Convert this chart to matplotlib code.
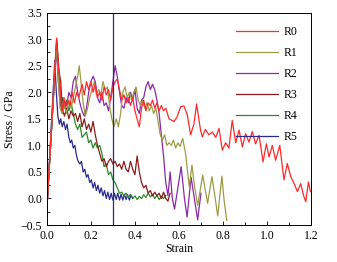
import numpy as np
import matplotlib.pyplot as plt
from matplotlib.ticker import MultipleLocator

# Stress-strain curves (strain, GPa)
r0_strain = [0.0, 0.044, 0.052, 0.06, 0.065, 0.07, 0.078, 0.085, 0.095, 0.105, 0.115, 0.125,
             0.135, 0.145, 0.16, 0.17, 0.18, 0.19, 0.20, 0.21, 0.22, 0.23, 0.24, 0.25, 0.26,
             0.27, 0.28, 0.29, 0.30, 0.31, 0.32, 0.33, 0.34, 0.35, 0.36, 0.37, 0.38, 0.39,
             0.40, 0.41, 0.42, 0.43, 0.44, 0.45, 0.46, 0.47, 0.48, 0.49, 0.50, 0.51, 0.52,
             0.53, 0.54, 0.555, 0.577, 0.59, 0.608, 0.623, 0.638, 0.653, 0.668, 0.68,
             0.698, 0.706, 0.72, 0.736, 0.752, 0.767, 0.782, 0.797, 0.812, 0.827, 0.842,
             0.858, 0.873, 0.888, 0.903, 0.918, 0.933, 0.948, 0.964, 0.982, 0.997, 1.009,
             1.024, 1.039, 1.058, 1.077, 1.092, 1.108, 1.123, 1.138, 1.153, 1.168, 1.176,
             1.188, 1.197]
r0_stress = [-0.2, 3.02, 2.5, 2.2, 1.8, 1.65, 1.9, 1.7, 1.85, 1.75, 2.0, 1.8,
             2.0, 1.9, 2.15, 1.95, 2.2, 2.05, 2.2, 2.0, 2.15, 1.9, 2.0, 1.85, 2.1,
             1.95, 2.05, 1.85, 2.1, 2.2, 2.25, 2.05, 1.85, 1.95, 1.8, 1.9, 1.75, 1.9,
             1.65, 1.5, 1.35, 1.7, 1.85, 1.65, 1.8, 1.75, 1.85, 1.7, 1.8, 1.65, 1.75,
             1.65, 1.7, 1.5, 1.45, 1.52, 1.73, 1.74, 1.57, 1.2, 1.4, 1.78,
             1.29, 1.16, 1.3, 1.2, 1.25, 1.15, 1.32, 0.91, 1.05, 0.95, 1.47,
             1.05, 1.29, 0.97, 1.22, 1.06, 1.26, 1.03, 1.19, 0.69, 1.03, 0.78,
             1.0, 0.72, 1.0, 0.35, 0.66, 0.41, 0.28, 0.13, 0.28, 0.03, -0.06,
             0.31, 0.13]

r1_strain = [0.0, 0.043, 0.052, 0.06, 0.07, 0.08, 0.09, 0.10, 0.11, 0.12, 0.13, 0.14, 0.147,
             0.155, 0.165, 0.175, 0.185, 0.195, 0.205, 0.215, 0.225, 0.235, 0.245, 0.255,
             0.265, 0.275, 0.285, 0.295, 0.305, 0.315, 0.325, 0.335, 0.345, 0.355, 0.365,
             0.375, 0.385, 0.395, 0.405, 0.415, 0.425, 0.435, 0.445, 0.455, 0.465, 0.475,
             0.485, 0.495, 0.505, 0.515, 0.525, 0.535, 0.545, 0.555, 0.565, 0.575, 0.585,
             0.595, 0.605, 0.617, 0.63, 0.647, 0.659, 0.67, 0.685, 0.708, 0.73, 0.75,
             0.765, 0.776, 0.795, 0.805, 0.817]
r1_stress = [-0.2, 2.9, 2.3, 1.7, 1.6, 1.75, 1.6, 1.85, 1.7, 1.9, 2.1, 2.3, 2.5,
             2.2, 1.8, 1.55, 1.7, 1.9, 2.05, 2.2, 1.95, 2.05, 1.95, 2.2,
             2.05, 2.1, 1.75, 1.5, 1.35, 1.5, 1.35, 1.6, 2.0, 2.1, 1.9,
             2.0, 1.85, 2.0, 2.1, 1.85, 1.75, 1.85, 1.7, 1.8, 1.65, 1.75,
             1.6, 1.7, 1.45, 1.2, 1.1, 1.2, 1.0, 1.05, 1.0, 1.1, 0.95,
             1.05, 0.98, 1.13, 0.85, 0.22, 0.63, 0.25, -0.13, 0.44, -0.09, 0.41,
             0.0, -0.33, 0.42, -0.03, -0.41]

r2_strain = [0.0, 0.043, 0.052, 0.06, 0.07, 0.08, 0.09, 0.10, 0.11, 0.12, 0.13, 0.14, 0.15,
             0.16, 0.17, 0.18, 0.19, 0.20, 0.21, 0.22, 0.23, 0.24, 0.25, 0.26, 0.27, 0.28,
             0.29, 0.30, 0.31, 0.32, 0.33, 0.34, 0.35, 0.36, 0.37, 0.38, 0.39, 0.40, 0.41,
             0.42, 0.43, 0.44, 0.45, 0.46, 0.47, 0.48, 0.49, 0.50, 0.51, 0.52, 0.53, 0.54,
             0.55, 0.56, 0.57, 0.58, 0.595, 0.61, 0.625, 0.637, 0.655, 0.67, 0.685, 0.70]
r2_stress = [-0.2, 2.85, 2.2, 1.8, 1.6, 1.85, 1.75, 2.0, 1.9, 2.2, 2.3, 2.0, 1.8,
             1.65, 1.55, 1.7, 2.0, 2.2, 2.3, 2.2, 1.9, 1.8, 2.0, 1.75, 1.8, 1.65,
             1.9, 2.2, 2.5, 2.3, 2.0, 1.75, 1.7, 1.9, 1.8, 2.0, 1.85, 2.05, 1.7,
             1.6, 1.85, 1.9, 2.1, 2.2, 2.05, 2.15, 2.05, 1.85, 1.6, 1.2, 0.8, 0.3,
             0.05, 0.5, 0.0, -0.2, 0.2, 0.6, 0.0, -0.35, 0.4, 0.0, -0.4, 0.1]

r3_strain = [0.0, 0.045, 0.055, 0.063, 0.07, 0.08, 0.09, 0.10, 0.11, 0.12, 0.13, 0.14, 0.15,
             0.16, 0.17, 0.18, 0.19, 0.20, 0.21, 0.22, 0.23, 0.24, 0.25, 0.26, 0.27, 0.28,
             0.29, 0.30, 0.31, 0.32, 0.33, 0.34, 0.35, 0.36, 0.37, 0.38, 0.39, 0.40, 0.41,
             0.42, 0.43, 0.44, 0.45, 0.46, 0.47, 0.48, 0.49, 0.50, 0.51, 0.52, 0.53, 0.54,
             0.55, 0.56]
r3_stress = [-0.2, 3.0, 2.4, 2.2, 1.7, 1.55, 1.7, 1.5, 1.65, 1.55, 1.6, 1.45, 1.6,
             1.35, 1.5, 1.3, 1.4, 1.25, 1.45, 1.2, 1.0, 0.85, 0.7, 0.75, 0.6, 0.7,
             0.75, 0.65, 0.7, 0.6, 0.65, 0.55, 0.7, 0.55, 0.5, 0.7, 0.55, 0.45, 0.8,
             0.5, 0.3, 0.2, 0.25, 0.1, 0.15, 0.05, 0.12, 0.05, 0.1, 0.0, 0.12, 0.0,
             -0.05, 0.1]

r4_strain = [0.0, 0.045, 0.052, 0.058, 0.065, 0.072, 0.08, 0.09, 0.10, 0.11, 0.12, 0.13,
             0.14, 0.15, 0.16, 0.17, 0.18, 0.19, 0.20, 0.21, 0.22, 0.23, 0.24, 0.25, 0.26,
             0.27, 0.28, 0.29, 0.30, 0.31, 0.32, 0.33, 0.34, 0.35, 0.36, 0.37, 0.38, 0.39,
             0.40, 0.41, 0.42, 0.43, 0.44, 0.45, 0.46, 0.47, 0.48, 0.49, 0.50, 0.51, 0.52,
             0.53, 0.54]
r4_stress = [-0.2, 2.95, 2.5, 2.1, 1.75, 1.9, 1.7, 1.85, 1.65, 1.8, 1.6, 1.4,
             1.3, 1.4, 1.15, 1.2, 1.25, 1.05, 1.1, 0.95, 1.05, 0.95, 1.0, 0.85, 0.6,
             0.65, 0.45, 0.5, 0.35, 0.3, 0.2, 0.1, 0.12, 0.05, 0.1, 0.02, 0.08, 0.0,
             0.05, -0.02, 0.04, 0.0, 0.07, 0.02, 0.1, 0.03, 0.08, 0.0, 0.06, -0.02, 0.04,
             0.0, 0.06]

r5_strain = [0.0, 0.036, 0.043, 0.05, 0.057, 0.063, 0.07, 0.077, 0.085, 0.092, 0.10, 0.107,
             0.113, 0.12, 0.127, 0.135, 0.142, 0.15, 0.157, 0.165, 0.172, 0.18, 0.187,
             0.195, 0.202, 0.21, 0.217, 0.225, 0.232, 0.24, 0.247, 0.255, 0.262, 0.27,
             0.277, 0.285, 0.292, 0.30, 0.307, 0.315, 0.322, 0.33, 0.337, 0.345, 0.352,
             0.36, 0.367, 0.375, 0.382, 0.39]
r5_stress = [-0.2, 2.6, 2.0, 1.55, 1.4, 1.5, 1.35, 1.45, 1.3, 1.4, 1.15, 1.05,
             1.1, 0.95, 1.0, 0.8, 0.7, 0.65, 0.7, 0.5, 0.55, 0.4, 0.45,
             0.3, 0.35, 0.2, 0.3, 0.15, 0.25, 0.1, 0.2, 0.05, 0.15, 0.0,
             0.12, -0.02, 0.1, -0.03, 0.1, -0.02, 0.1, -0.03, 0.08, -0.03, 0.08,
             -0.02, 0.07, -0.03, 0.06, 0.0]

labels = ['R0', 'R1', 'R2', 'R3', 'R4', 'R5']
colors = ['#ff2a2a', '#9c9c45', '#8a2aa8', '#8a1c1c', '#2a8a2a', '#2a2a90']
marker_strain = 0.3

plt.rcParams['font.family'] = ['Liberation Serif', 'DejaVu Serif']

fig = plt.figure(figsize=(3.37, 2.62), dpi=100)
ax = fig.add_axes([0.139, 0.141, 0.784, 0.811])

curves = [(r0_strain, r0_stress), (r1_strain, r1_stress), (r2_strain, r2_stress),
          (r3_strain, r3_stress), (r4_strain, r4_stress), (r5_strain, r5_stress)]
# draw R5 first so R0 sits on top, legend keeps R0..R5 order
handles = [None] * 6
for i in range(5, -1, -1):
    x, y = curves[i]
    handles[i], = ax.plot(x, y, color=colors[i], lw=0.9, label=labels[i])

ax.axvline(marker_strain, color='#2a2a80', lw=0.9)

ax.set_xlim(0, 1.2)
ax.set_ylim(-0.5, 3.5)
ax.xaxis.set_major_locator(MultipleLocator(0.2))
ax.xaxis.set_minor_locator(MultipleLocator(0.1))
ax.yaxis.set_major_locator(MultipleLocator(0.5))
ax.yaxis.set_minor_locator(MultipleLocator(0.25))
ax.tick_params(which='both', direction='in', labelsize=8.5)
ax.tick_params(which='major', length=3, width=0.6)
ax.tick_params(which='minor', length=2, width=0.6)
ax.xaxis.set_major_formatter(plt.FuncFormatter(lambda v, p: f'{v:.1f}'))
ax.yaxis.set_major_formatter(plt.FuncFormatter(lambda v, p: f'{v:.1f}'.replace('-', '\u2212')))
for s in ax.spines.values():
    s.set_linewidth(0.7)

ax.set_xlabel('Strain', fontsize=8.5, labelpad=1)
ax.set_ylabel('Stress / GPa', fontsize=8.5, labelpad=3)

ax.legend(handles=handles, loc='upper right', bbox_to_anchor=(0.99, 0.985), frameon=False,
          fontsize=8.5, handlelength=3.6, labelspacing=0.75, handletextpad=0.5)

fig.savefig('out.png', dpi=100)
